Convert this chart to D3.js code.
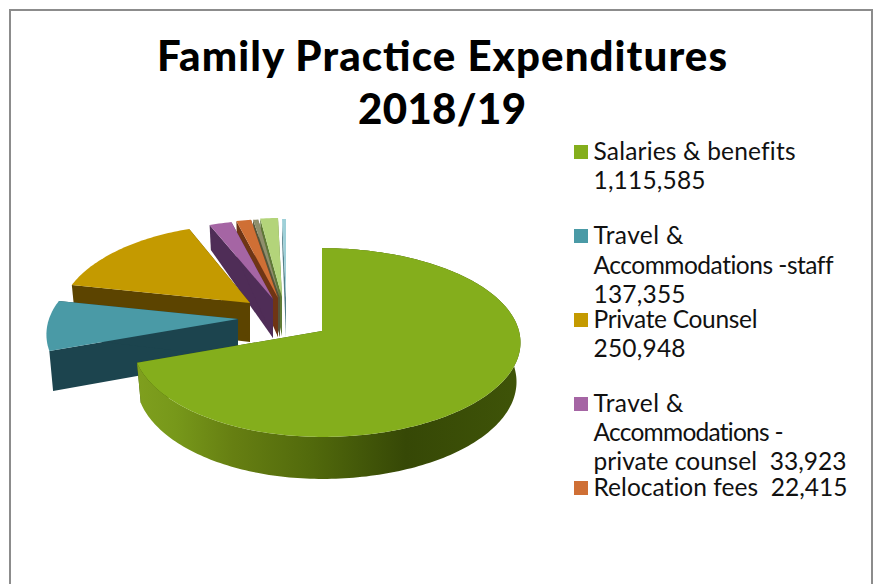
<!DOCTYPE html>
<html><head><meta charset="utf-8">
<style>html,body{margin:0;padding:0;background:#fff;overflow:hidden}svg{display:block}</style>
<script src="https://cdn.jsdelivr.net/npm/d3@7"></script></head>
<body><svg id="c" width="873" height="584"></svg>
<script>
const titleLines = ["Family Practice Expenditures", "2018/19"];
const categories = ["Salaries & benefits", "Travel & Accommodations -staff", "Private Counsel", "Travel & Accommodations - private counsel", "Relocation fees", "Other A", "Other B", "Other C"];
const values = [1115585, 137355, 250948, 33923, 22415, 8000, 27000, 6000];
const legendLines = [
  ["Salaries & benefits", "1,115,585"],
  ["Travel &", "Accommodations -staff", "137,355"],
  ["Private Counsel", "250,948"],
  ["Travel &", "Accommodations -", "private counsel  33,923"],
  ["Relocation fees  22,415"]
];
const legendBaselines = [[160,189],[244,274,303],[328,357],[412,441,470],[496]];
const legendWidths = [[202,112],[90,240,92],[164,92],[90,190,253],[254]];
const topColors = ["#84ae1c","#4a9aa6","#c49a00","#a565a4","#cf6f35","#8f8f6c","#b3d47a","#9ed0d8"];
const sideColors = ["#3e5208","#1c444e","#5c4400","#4f2d57","#6f3515","#55553a","#5f7a36","#55808a"];
const apexes = [[322,331],[238,319],[250,303],[273,299],[278,298],[280,298],[282,297],[286,298]];
const radiiLeft = [188,189,188,196,196,196,196,196];
const radiiRight = [197,189,188,196,196,196,196,196];
const perspective = [0.122,0.164,0.164,0.164,0.164,0.164,0.164,0.164];
const verticalRadii = [93,92,92,92,92,92,92,92];

const svg = d3.select("#c");
svg.append("rect").attr("x",10).attr("y",10).attr("width",862).attr("height",640)
  .attr("fill","#fff").attr("stroke","#8c8c8c").attr("stroke-width",2);

const arcs = d3.pie().sort(null).value(d=>d)(values);
function topPt(i,a){const u=Math.sin(a),v=Math.cos(a),w=1+perspective[i]*v,r=u<0?radiiLeft[i]:radiiRight[i];
  return [apexes[i][0]+r*u/w, apexes[i][1]-verticalRadii[i]*v/w, v];}
function bottomPt(i,p){const d = p[2]>0 ? 39-15*p[2] : 39-3*p[2];
  return [apexes[i][0]+(p[0]-apexes[i][0])*0.98, p[1]+d];}
const line = d3.line();
const defs = svg.append("defs");
const grad = defs.append("linearGradient").attr("id","gs").attr("gradientUnits","userSpaceOnUse")
  .attr("x1",137).attr("x2",521).attr("y1",0).attr("y2",0);
[[0,"#7f9f1e"],[0.1,"#77981a"],[0.25,"#667f12"],[0.45,"#526a0c"],[0.7,"#364806"],[1,"#3f5408"]]
  .forEach(s=>grad.append("stop").attr("offset",s[0]).attr("stop-color",s[1]));

const order = d3.range(values.length).reverse();
const g = svg.append("g");
order.forEach(i=>{
  const s=arcs[i], n=Math.max(2,Math.ceil((s.endAngle-s.startAngle)/0.02));
  const rim=d3.range(n+1).map(j=>topPt(i,s.startAngle+(s.endAngle-s.startAngle)*j/n));
  const apex=[apexes[i][0],apexes[i][1],0], bApex=bottomPt(i,apex);
  [rim[0],rim[n]].forEach(p=>{
    g.append("path").attr("d",line([[p[0],p[1]],[apex[0],apex[1]],bApex,bottomPt(i,p)])+"Z")
      .attr("fill",sideColors[i]);
  });
  if(i===0) g.append("path").attr("d",line(rim.map(p=>[p[0],p[1]]).concat(rim.map(p=>bottomPt(i,p)).reverse()))+"Z")
    .attr("fill","url(#gs)");
  g.append("path").attr("d",line(rim.map(p=>[p[0],p[1]]).concat([[apex[0],apex[1]]]))+"Z")
    .attr("fill",topColors[i]);
});

svg.selectAll("text.t").data(titleLines).join("text").attr("class","t")
  .attr("x",442).attr("y",(d,i)=>[71,124][i]).attr("text-anchor","middle")
  .attr("font-family","Lato,sans-serif").attr("font-weight",900)
  .attr("font-size",42).attr("fill","#000")
  .attr("textLength",(d,i)=>[570,168][i]).attr("lengthAdjust","spacing").text(d=>d);

legendLines.forEach((ls,i)=>{
  svg.append("rect").attr("x",574).attr("y",legendBaselines[i][0]-15).attr("width",14).attr("height",14).attr("fill",topColors[i]);
  ls.forEach((t,j)=>svg.append("text").attr("x",593.5).attr("y",legendBaselines[i][j])
    .attr("font-family","Lato,sans-serif").attr("font-size",24.5).attr("fill","#111")
    .attr("textLength",legendWidths[i][j]).attr("lengthAdjust","spacing")
    .style("white-space","pre").style("font-variant-ligatures","none").text(t));
});
</script></body></html>
